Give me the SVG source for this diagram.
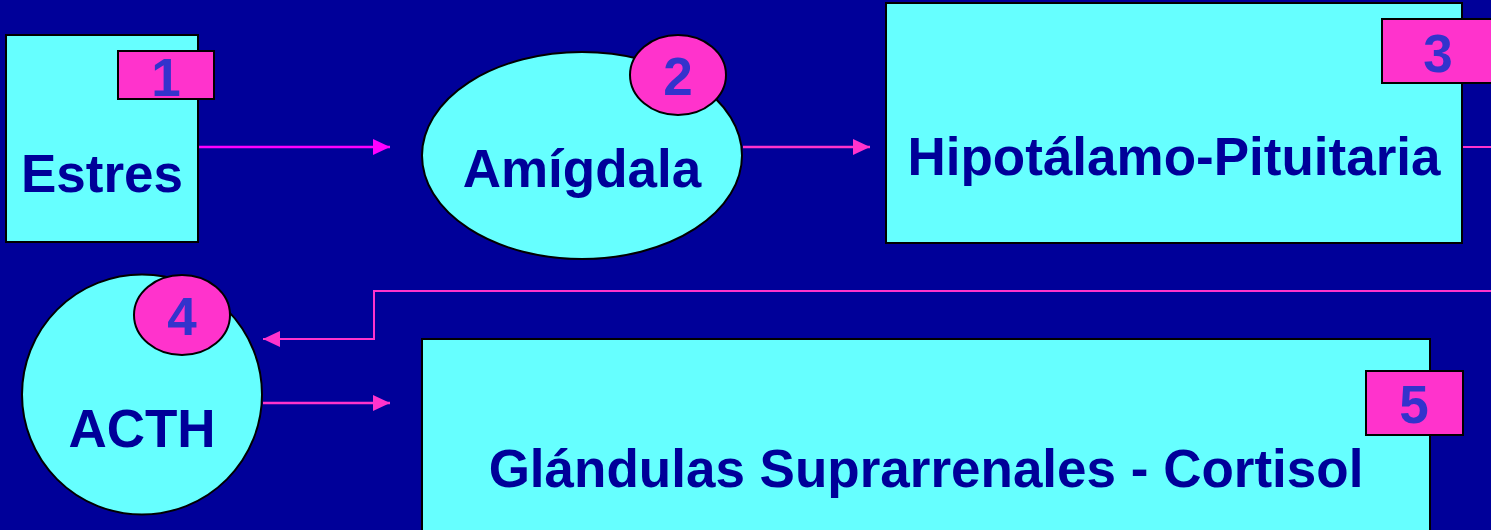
<svg xmlns="http://www.w3.org/2000/svg" width="1491" height="530" viewBox="0 0 1491 530">
  <style>
    .shape { fill: #66FFFF; stroke: #000000; stroke-width: 2; }
    .badge { fill: #FF33CC; stroke: #000000; stroke-width: 2; }
    .label { font-family: "Liberation Sans", Arial, sans-serif; font-weight: bold; font-size: 53px; fill: #000099; text-anchor: middle; }
    .num { font-family: "Liberation Sans", Arial, sans-serif; font-weight: bold; font-size: 53px; fill: #3333CC; text-anchor: middle; }
    .link { fill: none; stroke: #FF33CC; stroke-width: 2.5; }
  </style>
  <defs>
    <marker id="arrow" markerUnits="userSpaceOnUse" markerWidth="18" markerHeight="18" refX="17" refY="8" orient="auto">
      <path d="M0,0 L17,8 L0,16 Z" fill="#FF33CC"/>
    </marker>
    <marker id="arrowMag" markerUnits="userSpaceOnUse" markerWidth="18" markerHeight="18" refX="17" refY="8" orient="auto">
      <path d="M0,0 L17,8 L0,16 Z" fill="#FF00FF"/>
    </marker>
  </defs>

  <rect x="0" y="0" width="1491" height="530" fill="#000099"/>

  <g id="connectors">
    <line class="link" x1="199" y1="147" x2="390" y2="147" stroke="#FF00FF" style="stroke:#FF00FF" marker-end="url(#arrowMag)"/>
    <line class="link" x1="743" y1="147" x2="870" y2="147" marker-end="url(#arrow)"/>
    <line class="link" x1="1463" y1="147" x2="1491" y2="147" style="stroke-width:2"/>
    <polyline class="link" points="1491,291 374,291 374,339 263,339" style="stroke-width:2" marker-end="url(#arrow)"/>
    <line class="link" x1="263" y1="403" x2="390" y2="403" marker-end="url(#arrow)"/>
  </g>

  <g id="node-estres">
    <rect class="shape" x="6" y="35" width="192" height="207"/>
    <text class="label" x="102" y="192">Estres</text>
    <rect class="badge" x="118" y="51" width="96" height="48"/>
    <text class="num" x="166" y="96">1</text>
  </g>

  <g id="node-amigdala">
    <ellipse class="shape" cx="582" cy="155.5" rx="160" ry="103.5"/>
    <text class="label" x="582" y="187">Amígdala</text>
    <ellipse class="badge" cx="678" cy="75" rx="48" ry="40"/>
    <text class="num" x="678" y="95">2</text>
  </g>

  <g id="node-hipotalamo">
    <rect class="shape" x="886" y="3" width="576" height="240"/>
    <text class="label" x="1174" y="175">Hipotálamo-Pituitaria</text>
    <rect class="badge" x="1382" y="19" width="120" height="64"/>
    <text class="num" x="1438" y="72">3</text>
  </g>

  <g id="node-acth">
    <circle class="shape" cx="142" cy="394.5" r="120"/>
    <text class="label" x="142" y="447">ACTH</text>
    <ellipse class="badge" cx="182" cy="315" rx="48" ry="40"/>
    <text class="num" x="182" y="335">4</text>
  </g>

  <g id="node-suprarrenales">
    <rect class="shape" x="422" y="339" width="1008" height="200"/>
    <text class="label" x="926" y="487">Glándulas Suprarrenales - Cortisol</text>
    <rect class="badge" x="1366" y="371" width="97" height="64"/>
    <text class="num" x="1414" y="423">5</text>
  </g>
</svg>
